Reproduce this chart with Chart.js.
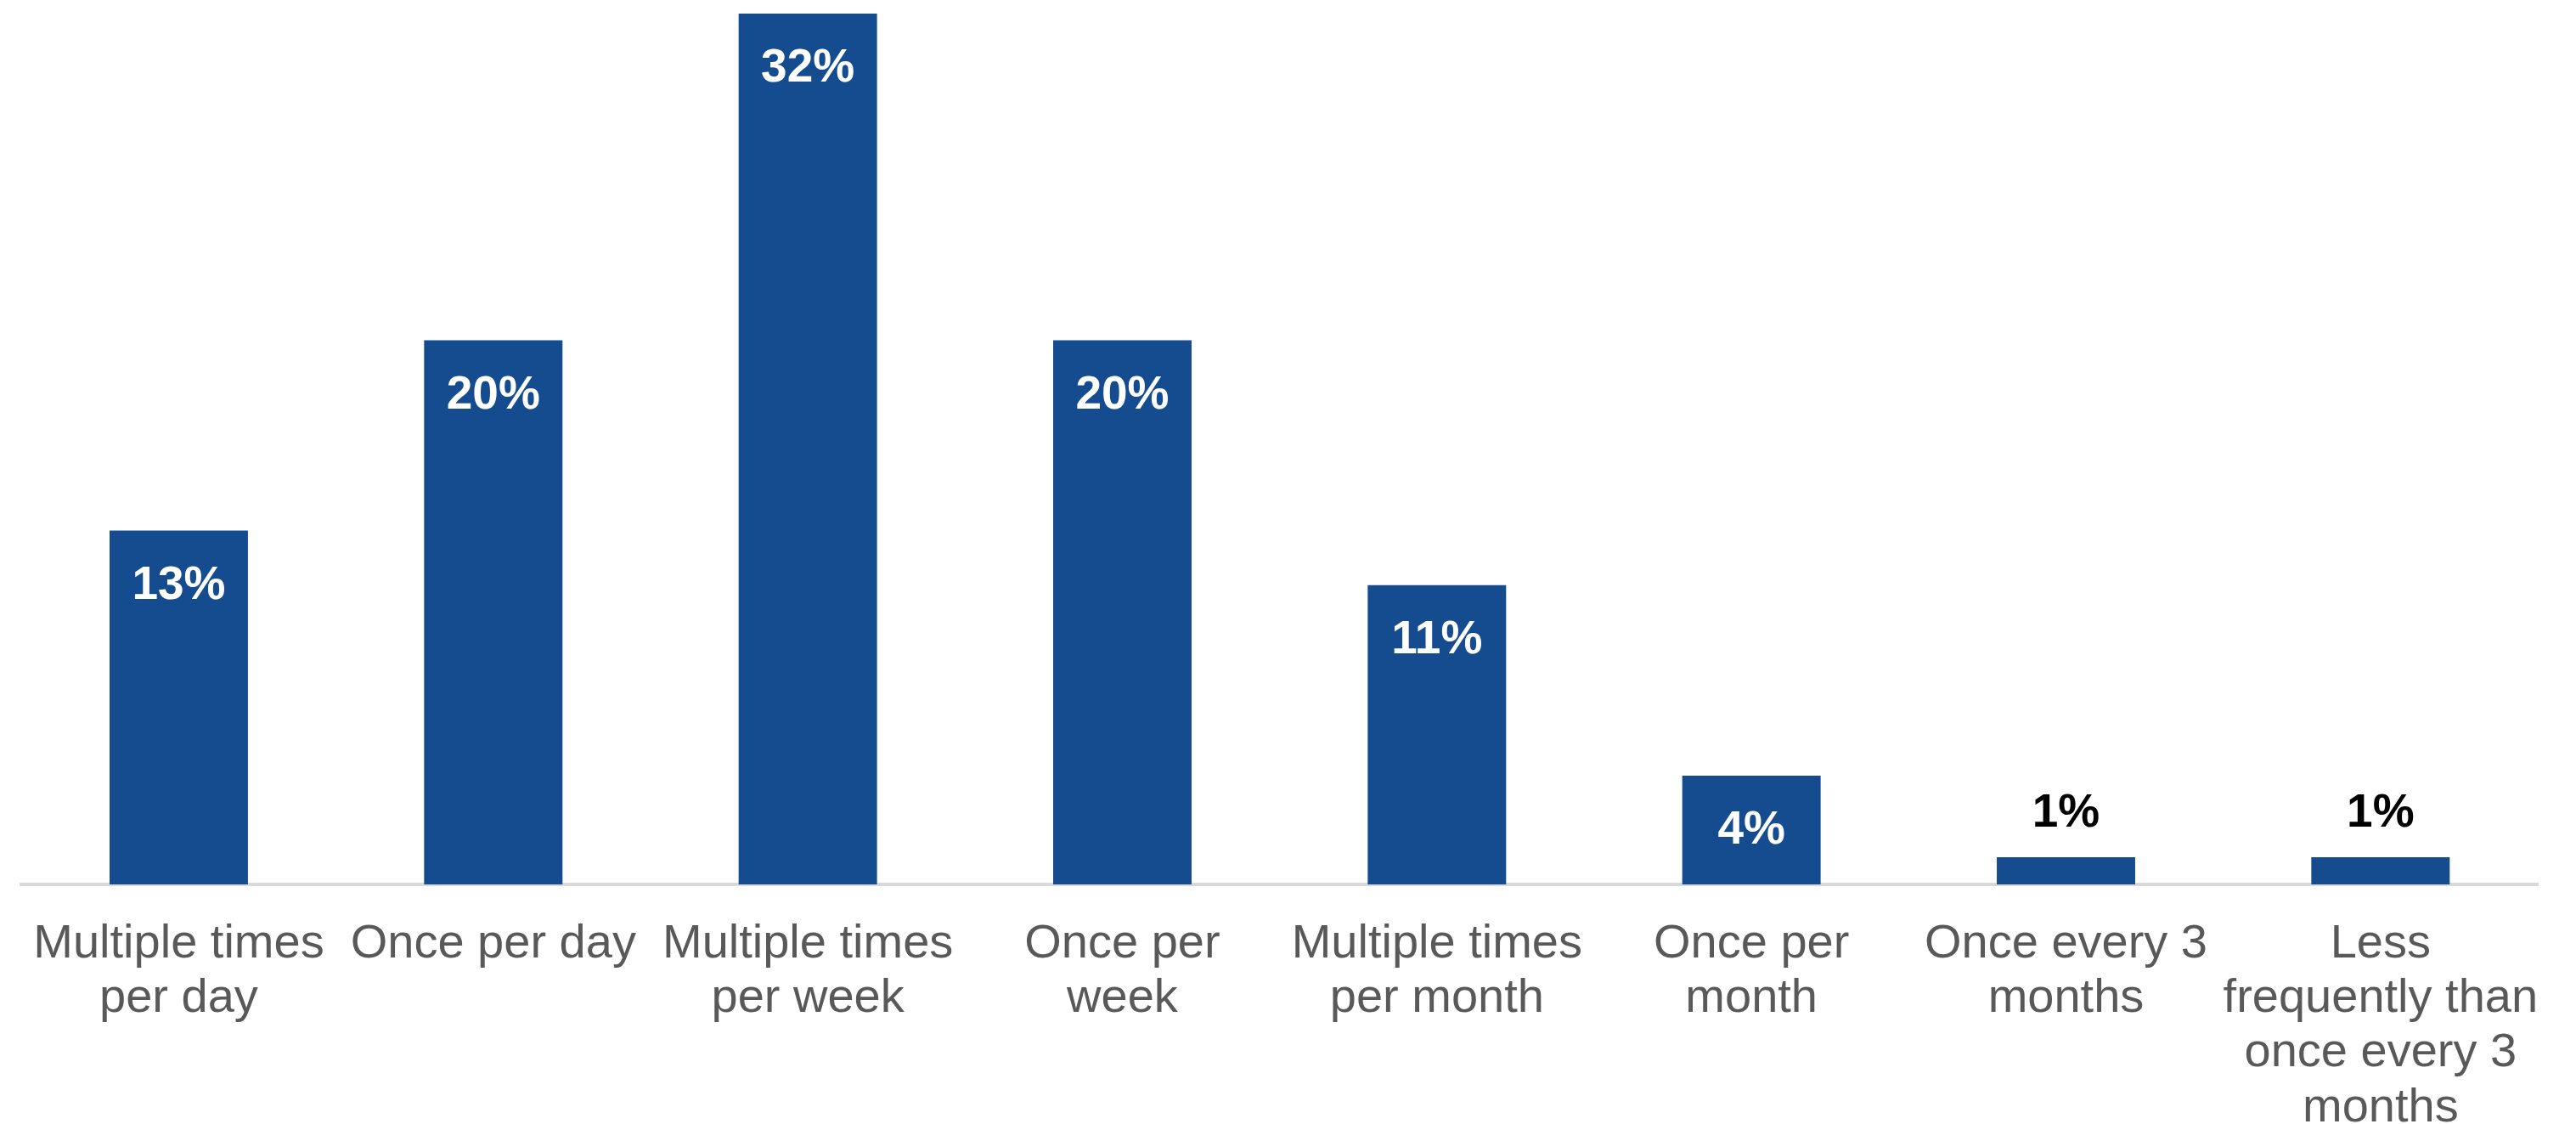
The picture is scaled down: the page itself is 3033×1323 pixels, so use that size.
<!DOCTYPE html>
<html>
<head>
<meta charset="utf-8">
<script src="https://cdn.jsdelivr.net/npm/chart.js@4"></script>
<style>
  html, body { margin: 0; padding: 0; background: #ffffff; }
  canvas { display: block; }
</style>
</head>
<body>
<canvas id="c" width="3033" height="1323"></canvas>
<script>
const categories = [
  ["Multiple times", "per day"],
  ["Once per day"],
  ["Multiple times", "per week"],
  ["Once per", "week"],
  ["Multiple times", "per month"],
  ["Once per", "month"],
  ["Once every 3", "months"],
  ["Less", "frequently than", "once every 3", "months"]
];
const values = [13, 20, 32, 20, 11, 4, 1, 1];
const valueLabels = ["13%", "20%", "32%", "20%", "11%", "4%", "1%", "1%"];

const barColor = "#154C8F";

const labelPlugin = {
  id: "valueLabels",
  afterDatasetsDraw(chart) {
    const ctx = chart.ctx;
    const meta = chart.getDatasetMeta(0);
    ctx.save();
    ctx.font = "bold 55px 'Liberation Sans', Arial, sans-serif";
    ctx.textAlign = "center";
    ctx.textBaseline = "middle";
    meta.data.forEach((bar, i) => {
      const h = bar.base - bar.y;
      if (h > 100) {
        ctx.fillStyle = "#ffffff";
        ctx.fillText(valueLabels[i], bar.x, bar.y + 65);
      } else {
        ctx.fillStyle = "#000000";
        ctx.fillText(valueLabels[i], bar.x, bar.y - 51);
      }
    });
    ctx.restore();
  }
};

new Chart(document.getElementById("c"), {
  type: "bar",
  data: {
    labels: categories,
    datasets: [{
      data: values,
      backgroundColor: barColor,
      borderWidth: 0,
      barPercentage: 0.44,
      categoryPercentage: 1.0
    }]
  },
  options: {
    responsive: false,
    devicePixelRatio: 1,
    animation: false,
    layout: { padding: { left: 21, right: 45, top: 16, bottom: 0 } },
    plugins: {
      legend: { display: false },
      tooltip: { enabled: false }
    },
    scales: {
      y: {
        display: false,
        min: 0,
        max: 32
      },
      x: {
        grid: { display: false, drawTicks: false },
        border: { display: true, color: "#D9D9D9", width: 4 },
        ticks: {
          color: "#595959",
          font: { family: "'Liberation Sans', Arial, sans-serif", size: 56, lineHeight: 1.15 },
          padding: 38,
          autoSkip: false,
          maxRotation: 0,
          minRotation: 0
        },
        afterFit(scale) { scale.height = 282; }
      }
    }
  },
  plugins: [labelPlugin]
});
</script>
</body>
</html>
